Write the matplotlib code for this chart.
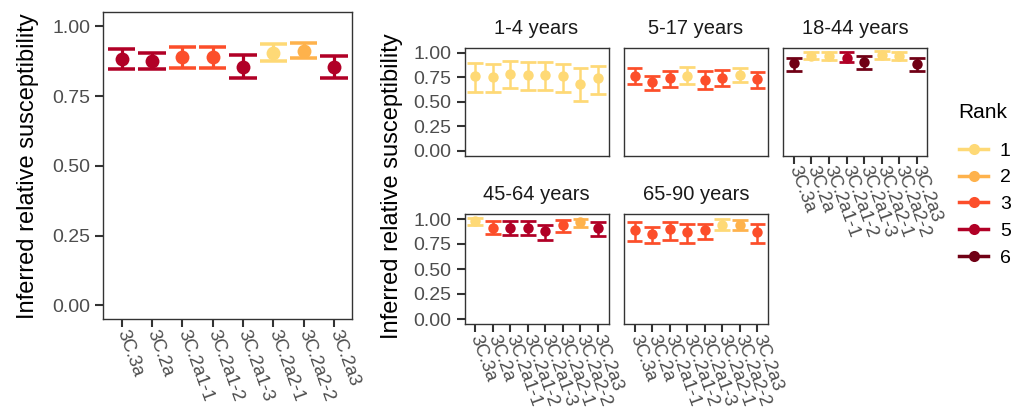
import matplotlib
matplotlib.use("Agg")
import matplotlib.pyplot as plt
from matplotlib.lines import Line2D
import numpy as np

plt.rcParams['font.family'] = ['Liberation Sans', 'DejaVu Sans']

clades = ["3C.3a", "3C.2a", "3C.2a1-1", "3C.2a1-2", "3C.2a1-3", "3C.2a2-1", "3C.2a2-2", "3C.2a3"]

# overall panel
all_est = [0.881, 0.876, 0.890, 0.890, 0.854, 0.905, 0.913, 0.854]
all_lo = [0.846, 0.848, 0.852, 0.852, 0.814, 0.874, 0.887, 0.814]
all_hi = [0.919, 0.903, 0.925, 0.925, 0.896, 0.938, 0.940, 0.893]
all_rank = [5, 5, 3, 3, 5, 1, 2, 5]

age_groups = ["1-4 years", "5-17 years", "18-44 years", "45-64 years", "65-90 years"]

a1_est = [0.759, 0.746, 0.783, 0.773, 0.773, 0.759, 0.682, 0.736]
a1_lo = [0.599, 0.599, 0.639, 0.619, 0.619, 0.599, 0.505, 0.582]
a1_hi = [0.893, 0.883, 0.910, 0.906, 0.906, 0.883, 0.843, 0.866]
a1_rank = [1, 1, 1, 1, 1, 1, 1, 1]

a2_est = [0.766, 0.699, 0.742, 0.766, 0.722, 0.739, 0.776, 0.726]
a2_lo = [0.676, 0.615, 0.649, 0.676, 0.632, 0.656, 0.699, 0.639]
a2_hi = [0.843, 0.766, 0.816, 0.849, 0.809, 0.826, 0.843, 0.799]
a2_rank = [3, 3, 3, 1, 3, 3, 1, 3]

a3_est = [0.890, 0.970, 0.965, 0.950, 0.900, 0.980, 0.965, 0.885]
a3_lo = [0.816, 0.930, 0.920, 0.905, 0.833, 0.935, 0.923, 0.816]
a3_hi = [0.950, 1.005, 1.005, 1.010, 0.967, 1.015, 1.005, 0.950]
a3_rank = [6, 1, 1, 5, 6, 1, 1, 6]

a4_est = [0.983, 0.909, 0.909, 0.909, 0.876, 0.943, 0.966, 0.909]
a4_lo = [0.936, 0.852, 0.842, 0.842, 0.792, 0.866, 0.919, 0.832]
a4_hi = [1.015, 0.977, 0.977, 0.977, 0.943, 0.993, 1.000, 0.970]
a4_rank = [1, 3, 5, 5, 5, 3, 2, 5]

a5_est = [0.893, 0.852, 0.899, 0.866, 0.893, 0.943, 0.943, 0.866]
a5_lo = [0.785, 0.765, 0.792, 0.758, 0.802, 0.886, 0.893, 0.765]
a5_hi = [0.966, 0.919, 0.966, 0.953, 0.953, 1.000, 0.993, 0.953]
a5_rank = [3, 3, 3, 3, 3, 1, 2, 3]

ranks = [1, 2, 3, 5, 6]
rank_colors = ["#FED976", "#FEB24C", "#FC4E2A", "#B10026", "#700015"]
cmap = dict(zip(ranks, rank_colors))

W, H = 1021, 412
fig = plt.figure(figsize=(W / 100, H / 100), dpi=100)


def rect(x0, y0, x1, y1):
    return [x0 / W, 1 - y1 / H, (x1 - x0) / W, (y1 - y0) / H]


def draw(ax, est, lo, hi, rk, ms, lw, xticks=True, yticks=True):
    x = np.arange(1, len(clades) + 1)
    for xi, e, l, h, r in zip(x, est, lo, hi, rk):
        c = cmap[r]
        ax.vlines(xi, l, h, color=c, lw=lw, zorder=2)
        ax.hlines([l, h], xi - 0.45, xi + 0.45, color=c, lw=lw * 1.1, zorder=2)
        ax.plot([xi], [e], 'o', color=c, ms=ms, mec='none', zorder=3)
    ax.set_xlim(0.4, 8.6)
    ax.set_ylim(-0.05, 1.05)
    ax.set_yticks([0, 0.25, 0.5, 0.75, 1.0])
    ax.set_yticklabels(["0.00", "0.25", "0.50", "0.75", "1.00"])
    ax.set_xticks(x)
    ax.set_xticklabels(clades, rotation=-70, ha='left', va='center', rotation_mode='anchor')
    for s in ax.spines.values():
        s.set_color('#333333')
        s.set_linewidth(1.0)
    ax.tick_params(axis='both', colors='#333333', labelcolor='#4D4D4D', labelsize=14,
                   length=5.5, width=1.5)
    ax.tick_params(axis='x', pad=2.5, labelsize=13.2)
    ax.tick_params(axis='y', pad=4)
    if not xticks:
        ax.tick_params(axis='x', bottom=False, labelbottom=False)
    if not yticks:
        ax.tick_params(axis='y', left=False, labelleft=False)


axL = fig.add_axes(rect(103.3, 12.3, 352.3, 319.3))
draw(axL, all_est, all_lo, all_hi, all_rank, ms=10, lw=2.3)
fig.text(39 / W, 1 - 166 / H, "Inferred relative susceptibility", rotation=90,
         ha='right', va='center', fontsize=17)

cols = [(464.5, 608.5), (624, 768), (783.3, 927.3)]
rows = [(47.7, 155.5), (214, 324)]
panel_data = [
    (a1_est, a1_lo, a1_hi, a1_rank),
    (a2_est, a2_lo, a2_hi, a2_rank),
    (a3_est, a3_lo, a3_hi, a3_rank),
    (a4_est, a4_lo, a4_hi, a4_rank),
    (a5_est, a5_lo, a5_hi, a5_rank),
]
for i, (name, d) in enumerate(zip(age_groups, panel_data)):
    r, c = divmod(i, 3)
    x0, x1 = cols[c]
    y0, y1 = rows[r]
    ax = fig.add_axes(rect(x0, y0, x1, y1))
    showx = (r == 1) or (i == 2)
    draw(ax, *d, ms=7.5, lw=1.8, xticks=showx, yticks=(c == 0))
    ax.set_title(name, fontsize=14.5, color='#1A1A1A', pad=10)

fig.text(403 / W, 1 - 186 / H, "Inferred relative susceptibility", rotation=90,
         ha='right', va='center', fontsize=17)

fig.text(958 / W, 1 - 113 / H, "Rank", ha='left', va='center', fontsize=15)
handles = [Line2D([], [], color=c, marker='o', lw=2.5, ms=8, mec='none') for c in rank_colors]
leg = fig.legend(handles, [str(r) for r in ranks], loc='upper left',
                 bbox_to_anchor=(959 / W, 1 - 142 / H), frameon=False, fontsize=14,
                 handlelength=1.5, labelspacing=0.47, handletextpad=0.6,
                 borderaxespad=0, borderpad=0)

fig.savefig("out.png", dpi=100)
